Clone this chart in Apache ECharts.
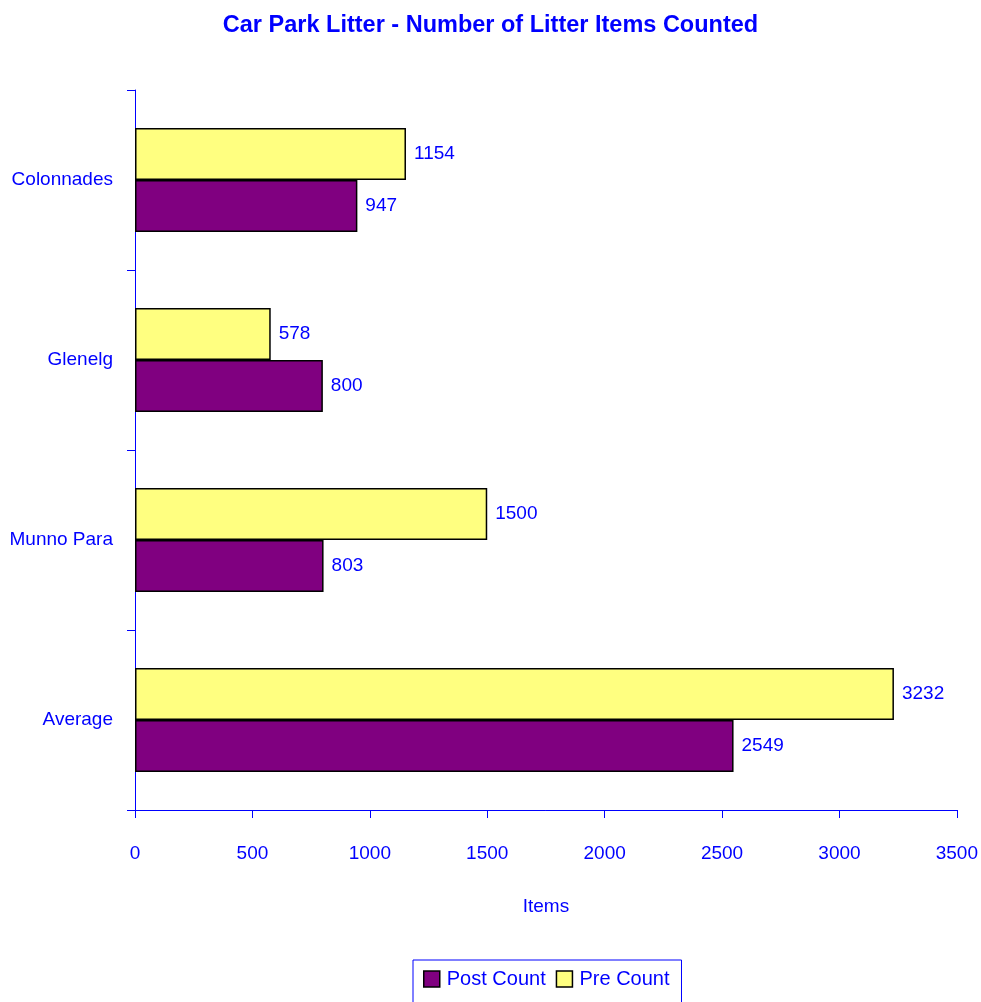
<!DOCTYPE html>
<html>
<head>
<meta charset="utf-8">
<script src="https://cdn.jsdelivr.net/npm/echarts@6/dist/echarts.min.js"></script>
<style>
  html, body { margin: 0; padding: 0; background: #fff; }
  #chart { width: 981px; height: 1002px; }
</style>
</head>
<body>
<div id="chart"></div>
<script>
// Sites listed bottom-to-top along the category axis
const sites = ['Average', 'Munno Para', 'Glenelg', 'Colonnades'];
const postCount = [2549, 803, 800, 947];
const preCount = [3232, 1500, 578, 1154];
const itemTicks = [0, 500, 1000, 1500, 2000, 2500, 3000, 3500];

const BLUE = '#0000FF';
const FONT = '"Liberation Sans Narrow", "Liberation Sans", Arial, sans-serif';

const chart = echarts.init(document.getElementById('chart'), null, { renderer: 'canvas' });

const valueLabel = {
  show: true,
  position: 'right',
  distance: 8,
  color: BLUE,
  fontSize: 19,
  fontFamily: FONT
};

chart.setOption({
  backgroundColor: '#ffffff',
  animation: false,
  title: {
    text: 'Car Park Litter - Number of Litter Items Counted',
    left: 'center',
    top: 9,
    textStyle: { color: BLUE, fontSize: 23.5, fontWeight: 'bold', fontFamily: FONT }
  },
  legend: {
    data: ['Post Count', 'Pre Count'],
    left: 413,
    top: 960,
    icon: 'rect',
    itemWidth: 16,
    itemHeight: 16,
    itemGap: 10,
    borderColor: BLUE,
    borderWidth: 1,
    padding: [9, 12, 16, 10],
    textStyle: { color: BLUE, fontSize: 20, fontFamily: FONT, padding: [0, 0, 0, 2] },
    itemStyle: { borderColor: '#000', borderWidth: 1.5 }
  },
  grid: { left: 135, right: 24, top: 90, bottom: 192, containLabel: false },
  xAxis: {
    type: 'value',
    min: itemTicks[0],
    max: itemTicks[itemTicks.length - 1],
    interval: itemTicks[1] - itemTicks[0],
    name: 'Items',
    nameLocation: 'middle',
    nameGap: 87,
    nameTextStyle: { color: BLUE, fontSize: 19, fontFamily: FONT },
    axisLine: { show: true, lineStyle: { color: BLUE, width: 1 } },
    axisTick: { show: true, length: 8, inside: false, lineStyle: { color: BLUE } },
    axisLabel: {
      color: BLUE, fontSize: 19, fontFamily: FONT, margin: 34,
      formatter: v => String(v)
    },
    splitLine: { show: false }
  },
  yAxis: {
    type: 'category',
    data: sites,
    axisLine: { show: true, lineStyle: { color: BLUE, width: 1 } },
    axisTick: { show: true, length: 8, alignWithLabel: false, lineStyle: { color: BLUE } },
    axisLabel: { color: BLUE, fontSize: 19, fontFamily: FONT, margin: 22 },
    splitLine: { show: false }
  },
  series: [
    {
      name: 'Pre Count',
      type: 'bar',
      data: preCount,
      barWidth: 52,
      barGap: '0%',
      itemStyle: { color: '#FFFF80', borderColor: '#000', borderWidth: 1.5 },
      label: valueLabel
    },
    {
      name: 'Post Count',
      type: 'bar',
      data: postCount,
      barWidth: 52,
      barGap: '0%',
      itemStyle: { color: '#800080', borderColor: '#000', borderWidth: 1.5 },
      label: valueLabel
    }
  ]
});
</script>
</body>
</html>
